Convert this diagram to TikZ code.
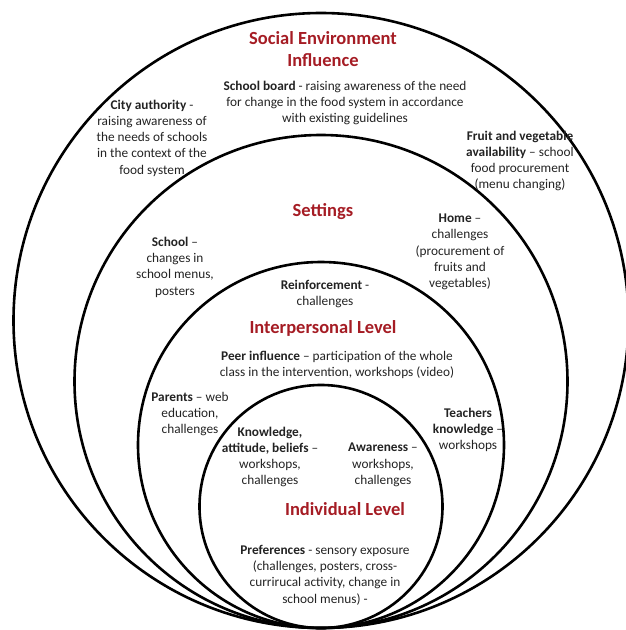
\documentclass[tikz,border=0pt]{standalone}
\usepackage{fontspec}
\setmainfont{Carlito}
\definecolor{levelred}{RGB}{165,28,36}
\definecolor{bodytext}{RGB}{35,35,35}
\begin{document}
\begin{tikzpicture}[x=1pt,y=-1pt,
  ring/.style={circle, draw=black, line width=2.6pt, inner sep=0pt},
  level/.style={text=levelred, font=\fontsize{18.5}{22.5}\selectfont\bfseries, align=center, inner sep=0pt},
  note/.style={text=bodytext, font=\fontsize{13.3}{16.3}\selectfont, align=center, inner sep=0pt}]
\useasboundingbox (0,0) rectangle (625,630);

% nested levels, all touching at the bottom
\node[ring, minimum size=615pt] (social) at (321,320.5) {};
\node[ring, minimum size=493pt] (settings) at (321,381.5) {};
\node[ring, minimum size=366pt] (interpersonal) at (321,445) {};
\node[ring, minimum size=243pt] (individual) at (321,506.5) {};

% Social environment
\node[level] (socialtitle) at (323,49) {Social Environment\\Influence};
\node[note] (board) at (345,103) {\textbf{School board} - raising awareness of the need\\for change in the food system in accordance\\with existing guidelines};
\node[note] (city) at (152,138) {\textbf{City authority} -\\raising awareness of\\the needs of schools\\in the context of the\\food system};
\node[note] (fruit) at (520,161) {\textbf{Fruit and vegetable}\\\textbf{availability} – school\\food procurement\\(menu changing)};

% Settings
\node[level] (settingstitle) at (323,212) {Settings};
\node[note] (school) at (175,267) {\textbf{School} –\\changes in\\school menus,\\posters};
\node[note] (home) at (460,252) {\textbf{Home} –\\challenges\\(procurement of\\fruits and\\vegetables)};

% Interpersonal level
\node[note] (reinforce) at (325,294) {\textbf{Reinforcement} -\\challenges};
\node[level] (interpersonaltitle) at (323,328) {Interpersonal Level};
\node[note] (peer) at (337,365) {\textbf{Peer influence} – participation of the whole\\class in the intervention, workshops (video)};
\node[note] (parents) at (190,414) {\textbf{Parents} – web\\education,\\challenges};
\node[note] (teachers) at (468,430) {\textbf{Teachers}\\\textbf{knowledge} –\\workshops};

% Individual level
\node[note] (knowledge) at (270,457) {\textbf{Knowledge,}\\\textbf{attitude, beliefs} –\\workshops,\\challenges};
\node[note] (awareness) at (383,465) {\textbf{Awareness} –\\workshops,\\challenges};
\node[level] (individualtitle) at (345,509) {Individual Level};
\node[note] (prefs) at (325,575) {\textbf{Preferences} - sensory exposure\\(challenges, posters, cross-\\currirucal activity, change in\\school menus) -};
\end{tikzpicture}
\end{document}
